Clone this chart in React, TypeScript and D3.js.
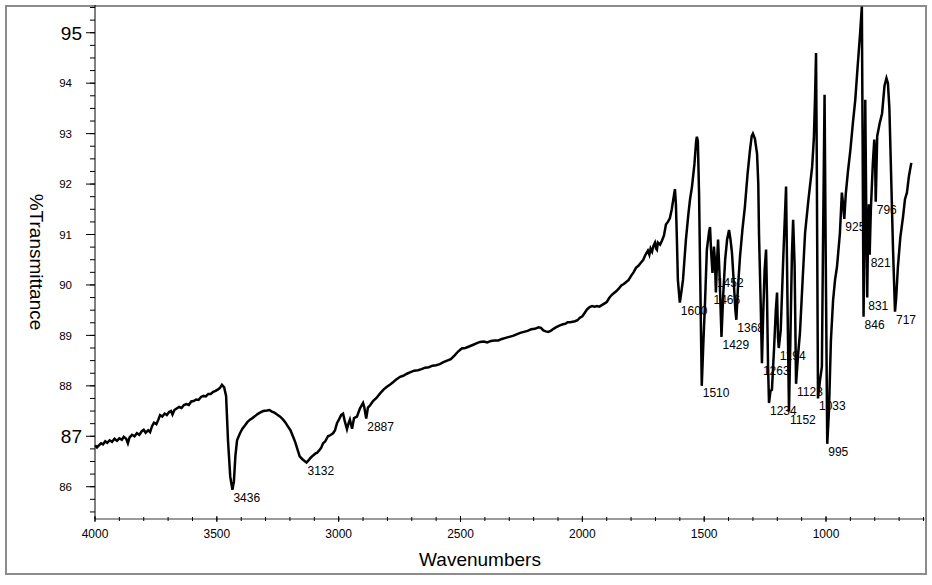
import * as d3 from "d3";

// IR spectrum: [wavenumber cm-1, %T]
const spectrumHigh: [number, number][] = [
  [4000, 86.82], [3992, 86.78], [3984, 86.82], [3975, 86.86], [3967, 86.84], [3958, 86.9], [3950, 86.87],
  [3940, 86.92], [3930, 86.89], [3920, 86.95], [3910, 86.91], [3900, 86.96], [3890, 86.93], [3882, 86.99],
  [3872, 86.95], [3865, 86.86], [3858, 86.98], [3848, 87.03], [3838, 87.0], [3828, 87.06], [3818, 87.03],
  [3808, 87.1], [3800, 87.13], [3792, 87.07], [3782, 87.12], [3774, 87.08], [3766, 87.2], [3758, 87.27],
  [3748, 87.24], [3740, 87.33], [3733, 87.42], [3724, 87.39], [3714, 87.45], [3705, 87.42], [3696, 87.48],
  [3688, 87.5], [3682, 87.43], [3674, 87.52], [3665, 87.55], [3655, 87.58], [3645, 87.56], [3635, 87.62],
  [3625, 87.64], [3615, 87.62], [3605, 87.69], [3595, 87.7], [3585, 87.73], [3575, 87.72], [3565, 87.78],
  [3555, 87.8], [3545, 87.79], [3535, 87.84], [3525, 87.84], [3515, 87.88], [3505, 87.9], [3495, 87.93],
  [3487, 87.96], [3479, 88.02], [3470, 87.97], [3462, 87.8], [3454, 86.9], [3445, 86.2], [3436, 85.94],
  [3430, 86.1], [3424, 86.6], [3417, 86.92], [3405, 87.06], [3395, 87.15], [3384, 87.22], [3375, 87.28],
  [3364, 87.33], [3354, 87.36], [3343, 87.4], [3333, 87.44], [3323, 87.47], [3310, 87.5], [3294, 87.51],
  [3284, 87.52], [3274, 87.49], [3264, 87.47], [3253, 87.43], [3240, 87.39], [3228, 87.33], [3218, 87.27],
  [3208, 87.19], [3198, 87.12], [3187, 86.99], [3178, 86.88], [3171, 86.77], [3160, 86.6], [3150, 86.55],
  [3140, 86.51], [3132, 86.48], [3124, 86.52], [3116, 86.57], [3105, 86.62], [3095, 86.66], [3089, 86.67],
  [3080, 86.72], [3072, 86.77], [3064, 86.86], [3055, 86.9], [3044, 87.0], [3035, 87.02], [3023, 87.06],
  [3015, 87.12], [3007, 87.26], [2998, 87.34], [2990, 87.42], [2982, 87.45], [2975, 87.3], [2966, 87.14],
  [2960, 87.25], [2954, 87.33], [2945, 87.15], [2937, 87.36], [2925, 87.39], [2913, 87.55], [2900, 87.66],
  [2895, 87.58], [2887, 87.35], [2880, 87.57], [2870, 87.62], [2859, 87.7], [2845, 87.76], [2830, 87.85],
  [2815, 87.93], [2802, 87.98], [2790, 88.02], [2777, 88.07], [2765, 88.12], [2748, 88.18], [2735, 88.2],
  [2720, 88.24], [2705, 88.27], [2690, 88.3], [2675, 88.31], [2660, 88.33], [2645, 88.36], [2630, 88.37],
  [2615, 88.4], [2600, 88.41], [2585, 88.43], [2570, 88.47], [2555, 88.5], [2540, 88.53], [2525, 88.6],
  [2510, 88.68], [2495, 88.74], [2480, 88.75], [2465, 88.78], [2450, 88.81], [2435, 88.84], [2420, 88.87],
  [2405, 88.88], [2390, 88.86], [2375, 88.89], [2360, 88.9], [2345, 88.9], [2330, 88.93], [2315, 88.95],
  [2300, 88.97], [2285, 88.99], [2270, 89.02], [2255, 89.05], [2240, 89.07], [2225, 89.09], [2210, 89.12],
  [2195, 89.13], [2180, 89.16], [2170, 89.15], [2160, 89.1], [2150, 89.08], [2140, 89.07], [2130, 89.09],
  [2118, 89.13], [2105, 89.17], [2092, 89.2], [2080, 89.22], [2070, 89.23], [2060, 89.26], [2050, 89.26],
  [2040, 89.27], [2030, 89.28], [2020, 89.3], [2010, 89.35], [2000, 89.38], [1990, 89.45], [1980, 89.52],
  [1970, 89.56], [1960, 89.58], [1950, 89.57], [1940, 89.58], [1930, 89.57], [1920, 89.6], [1910, 89.63],
  [1900, 89.66], [1890, 89.74], [1880, 89.8], [1870, 89.84], [1860, 89.88], [1850, 89.93], [1840, 89.99],
  [1830, 90.02], [1820, 90.06], [1810, 90.1], [1800, 90.18], [1790, 90.25], [1780, 90.34], [1770, 90.38],
  [1760, 90.44], [1750, 90.5], [1743, 90.58], [1736, 90.64], [1731, 90.68], [1725, 90.6], [1720, 90.72],
  [1714, 90.66], [1708, 90.78], [1702, 90.84], [1697, 90.72], [1694, 90.7],
];

const spectrumFingerprint: [number, number][] = [
  [1690, 90.84], [1681, 90.8], [1673, 90.88], [1665, 90.98], [1657, 91.2], [1649, 91.25], [1641, 91.32],
  [1633, 91.5], [1626, 91.72], [1620, 91.9], [1616, 91.6], [1612, 90.9], [1608, 90.1], [1600, 89.65],
  [1594, 89.85], [1587, 90.1], [1575, 90.9], [1565, 91.4], [1558, 91.7], [1550, 91.95], [1540, 92.4],
  [1533, 92.85], [1530, 92.94], [1526, 92.85], [1521, 91.8], [1517, 90.4], [1510, 88.0], [1503, 88.9],
  [1497, 89.6], [1489, 90.7], [1480, 91.05], [1476, 91.15], [1472, 90.7], [1466, 90.24], [1460, 90.76],
  [1456, 90.5], [1452, 89.85], [1447, 90.5], [1443, 90.9], [1437, 90.2], [1429, 88.97], [1422, 89.8],
  [1414, 90.5], [1406, 90.9], [1398, 91.09], [1392, 90.9], [1386, 90.64], [1378, 90.0], [1372, 89.5],
  [1368, 89.31], [1362, 89.9], [1353, 90.56], [1343, 91.1], [1333, 91.55], [1322, 92.2], [1312, 92.68],
  [1305, 92.95], [1300, 93.0], [1292, 92.9], [1283, 92.6], [1278, 92.0], [1275, 91.0], [1268, 89.6],
  [1263, 88.45], [1258, 89.4], [1252, 90.3], [1246, 90.7], [1242, 89.7], [1238, 88.4], [1234, 87.66],
  [1228, 87.9], [1222, 87.92], [1213, 88.77], [1206, 89.5], [1201, 89.85], [1197, 88.95], [1194, 88.75],
  [1186, 89.1], [1175, 90.6], [1164, 91.95], [1158, 89.6], [1152, 87.49], [1146, 89.0], [1140, 90.6],
  [1135, 91.29], [1129, 90.4], [1123, 88.04], [1115, 88.6], [1107, 89.05], [1096, 90.1], [1086, 91.03],
  [1072, 91.7], [1057, 92.34], [1050, 92.9], [1045, 93.73], [1041, 94.6], [1038, 92.5], [1033, 87.75],
  [1025, 88.1], [1017, 88.38], [1012, 91.0], [1006, 93.77], [1001, 90.4], [995, 86.85], [988, 87.5],
  [980, 88.9], [971, 89.7], [963, 90.1], [955, 90.36], [943, 91.03], [935, 91.83], [930, 91.6],
  [925, 91.31], [919, 91.8], [910, 92.25], [900, 92.68], [890, 93.2], [880, 93.67], [870, 94.35],
  [860, 95.0], [853, 95.52], [850, 93.0], [846, 89.37], [842, 91.2], [839, 93.67], [835, 91.5],
  [831, 89.75], [827, 91.2], [824, 91.6], [821, 90.6], [816, 91.5], [808, 92.4], [802, 92.88],
  [799, 92.6], [796, 91.65], [790, 92.95], [780, 93.2], [770, 93.4], [760, 93.95], [752, 94.1],
  [746, 94.0], [740, 93.5], [733, 92.2], [725, 90.7], [717, 89.47], [712, 89.75], [705, 90.36],
  [695, 90.95], [684, 91.35], [676, 91.7], [668, 91.83], [660, 92.15], [650, 92.42],
];

// labelled peaks
const peakWn = [3436, 3132, 2887, 1600, 1510, 1466, 1452, 1429, 1368, 1263, 1234, 1194, 1152, 1123, 1033, 995, 925, 846, 831, 821, 796, 717];
const peakT = [85.94, 86.48, 87.35, 89.65, 88.02, 89.86, 90.2, 88.97, 89.31, 88.45, 87.66, 88.75, 87.49, 88.04, 87.75, 86.85, 91.31, 89.37, 89.75, 90.6, 91.65, 89.47];

const xMajorTicks = [4000, 3500, 3000, 2500, 2000, 1500, 1000];
const yLabelTicks = [95, 94, 93, 92, 91, 90, 89, 88, 87, 86];
const yLargeLabels = [95, 87];

const W = 932;
const H = 585;
const left = 95;
const right = 923.5;
const top = 5;
const bottom = 519;
const font = "'Liberation Sans', Arial, sans-serif";

export default function App() {
  const x = d3.scaleLinear().domain([4000, 600]).range([left, right]);
  const y = d3.scaleLinear().domain([85.36, 95.55]).range([bottom, top]);

  const spectrum = spectrumHigh.concat(spectrumFingerprint);
  const line = d3.line<[number, number]>()
    .x((d) => x(d[0]))
    .y((d) => y(d[1]));

  const xMinor = d3.range(600, 4001, 100);
  const yMinor = d3.range(85.5, 95.51, 0.25);

  return (
    <div style={{ position: "absolute", left: 0, top: 0 }}>
      <svg width={W} height={H} style={{ display: "block", background: "#fff" }}>
        <rect x={6} y={6} width={920} height={568} fill="#fff" stroke="#8c8c8c" strokeWidth={2} />

        {/* x axis */}
        <line x1={left} x2={right + 1} y1={bottom} y2={bottom} stroke="#9a9a9a" strokeWidth={2} />
        {xMinor.map((t) => (
          <line key={"xm" + t} x1={x(t)} x2={x(t)} y1={bottom - 2} y2={bottom + 2} stroke="#000" strokeWidth={1} />
        ))}
        {xMajorTicks.map((t) => (
          <g key={"xt" + t}>
            <line x1={x(t)} x2={x(t)} y1={bottom - 3} y2={bottom + 3} stroke="#000" strokeWidth={1} />
            <text x={x(t)} y={538} textAnchor="middle" fontSize={12} fontFamily={font} fill="#000">
              {t}
            </text>
          </g>
        ))}
        <text x={480} y={566} textAnchor="middle" fontSize={19} fontFamily={font} fill="#000">
          Wavenumbers
        </text>

        {/* y axis */}
        <line x1={left} x2={left} y1={top} y2={bottom} stroke="#000" strokeWidth={1} />
        {yMinor.map((t) => (
          <line key={"ym" + t} x1={left - 5} x2={left} y1={y(t)} y2={y(t)} stroke="#000" strokeWidth={1} />
        ))}
        {yLabelTicks.map((t) => {
          const big = yLargeLabels.includes(t);
          return (
            <g key={"yt" + t}>
              <line x1={left - 9} x2={left} y1={y(t)} y2={y(t)} stroke="#000" strokeWidth={1} />
              <text
                x={big ? 82 : 72}
                y={y(t)}
                dy="0.36em"
                textAnchor="end"
                fontSize={big ? 19 : 11.5}
                fontFamily={font}
                fill="#000"
              >
                {t}
              </text>
            </g>
          );
        })}
        <text
          transform="translate(30,262) rotate(90)"
          textAnchor="middle"
          fontSize={19}
          fontFamily={font}
          fill="#000"
        >
          %Transmittance
        </text>

        {/* spectrum */}
        <path d={line(spectrum) || ""} fill="none" stroke="#000" strokeWidth={2.5} strokeLinejoin="miter" />

        {/* peak labels */}
        {peakWn.map((wn, i) => (
          <text
            key={"pk" + wn}
            x={x(wn) + 1}
            y={y(peakT[i]) + 12}
            fontSize={12}
            fontFamily={font}
            fill="#000"
          >
            {wn}
          </text>
        ))}
      </svg>
    </div>
  );
}
